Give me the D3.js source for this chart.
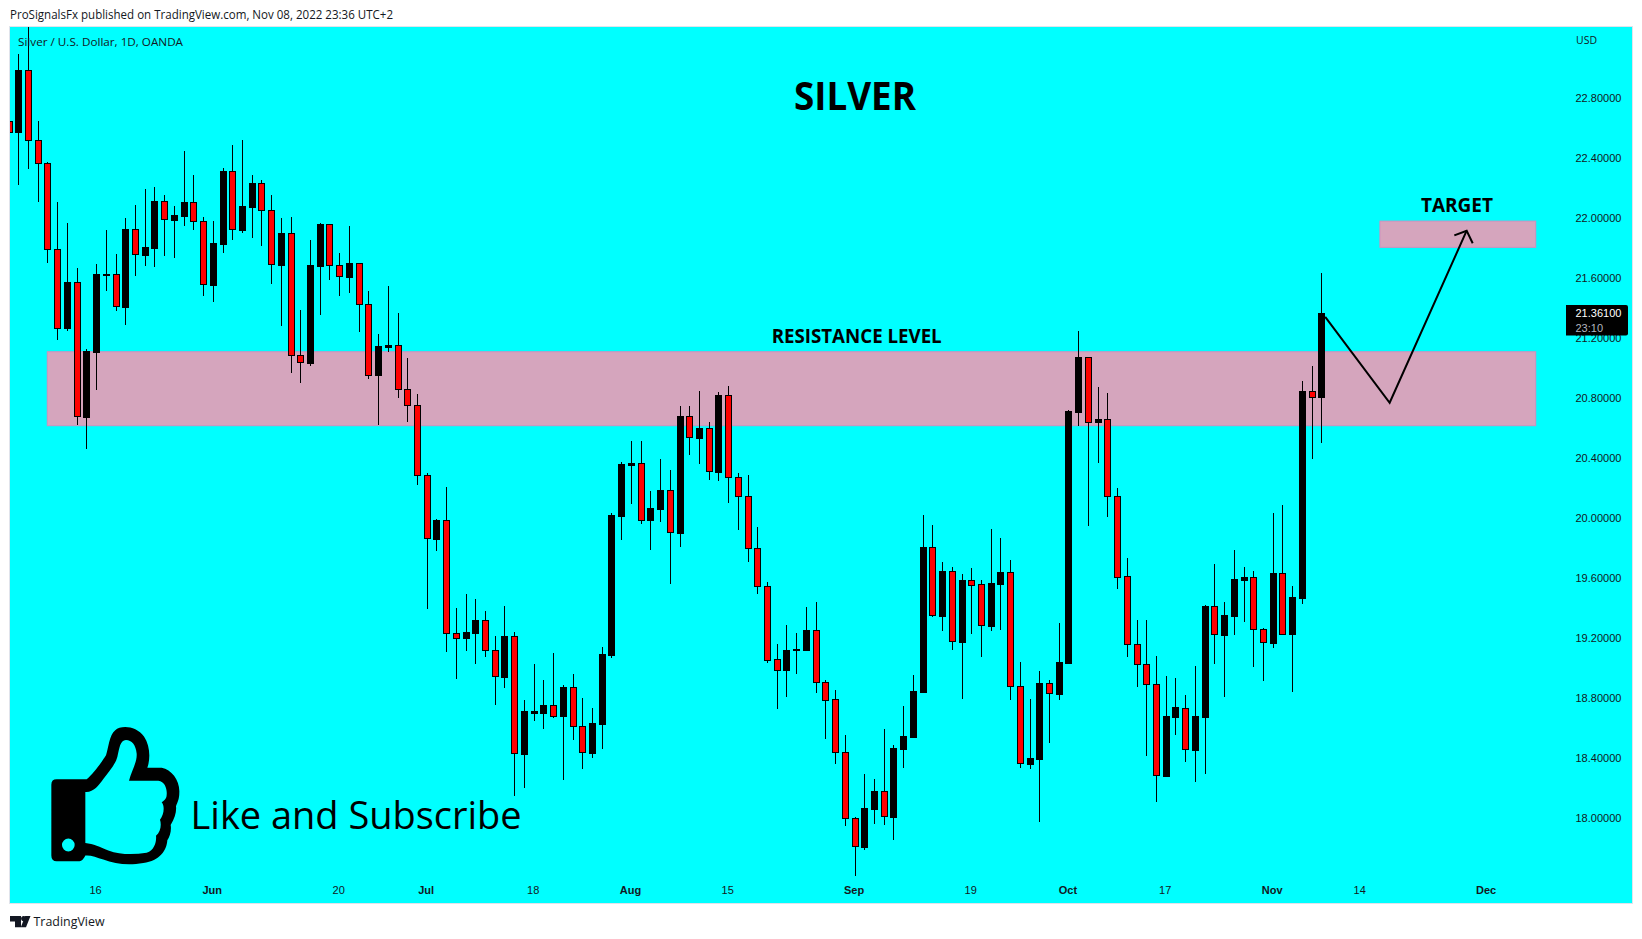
<!DOCTYPE html>
<html><head><meta charset="utf-8">
<script src="https://cdn.jsdelivr.net/npm/d3@7/dist/d3.min.js"></script>
<style>html,body{margin:0;padding:0;background:#fff;overflow:hidden}svg{display:block}
text{font-family:"Open Sans","Liberation Sans",sans-serif}</style></head>
<body><div id="chart"></div>
<script>
// Daily candles; the first entry is the cut-off candle at the left edge (session -1)
const opens=[22.645,22.571,22.980,22.513,22.360,21.787,21.265,21.567,20.671,21.105,21.618,21.620,21.404,21.920,21.751,21.798,22.109,21.985,22.011,22.102,21.973,21.551,21.825,22.307,21.918,22.071,22.227,22.047,21.685,21.893,21.080,21.031,21.678,21.953,21.680,21.605,21.693,21.420,20.947,21.138,21.147,20.853,20.747,
20.280,19.858,19.980,19.227,19.198,19.231,19.313,19.113,18.938,19.207,18.424,18.698,18.698,18.747,18.678,18.867,18.607,18.431,18.625,19.085,20.011,20.351,20.360,19.984,20.058,20.180,19.898,20.673,20.531,20.593,20.304,20.813,20.267,20.140,19.793,19.540,
19.053,18.985,19.113,19.118,19.247,18.900,18.787,18.433,17.993,17.805,18.058,18.173,18.005,18.458,18.538,18.838,19.800,19.345,19.640,19.171,19.580,19.553,19.278,19.558,19.633,18.873,18.358,18.391,18.893,18.825,
19.032,20.703,21.068,20.637,20.653,20.139,19.606,19.153,19.020,18.887,18.277,18.670,18.732,18.451,18.670,19.406,19.218,19.344,19.584,19.599,19.253,19.165,19.627,19.222,19.465,20.839,20.799];
const closes=[22.571,22.982,22.513,22.360,21.787,21.265,21.567,20.673,21.109,21.622,21.622,21.407,21.922,21.753,21.802,22.109,21.987,22.016,22.102,21.973,21.553,21.827,22.309,21.920,22.076,22.229,22.047,21.687,21.896,21.080,21.033,21.682,21.956,21.680,21.607,21.696,21.420,20.947,21.142,21.147,20.853,20.747,20.280,
19.860,19.982,19.227,19.198,19.236,19.316,19.113,18.940,19.209,18.427,18.709,18.707,18.749,18.678,18.869,18.607,18.433,18.629,19.089,20.016,20.356,20.360,19.984,20.062,20.182,19.900,20.676,20.533,20.596,20.307,20.816,20.267,20.140,19.793,19.540,19.051,
18.985,19.113,19.122,19.249,18.900,18.785,18.433,17.993,17.807,18.060,18.173,18.007,18.460,18.542,18.842,19.800,19.347,19.640,19.173,19.580,19.551,19.280,19.560,19.633,18.873,18.360,18.393,18.893,18.827,19.036,
20.708,21.068,20.637,20.653,20.139,19.603,19.153,19.020,18.887,18.280,18.675,18.734,18.453,18.675,19.408,19.220,19.349,19.589,19.601,19.253,19.168,19.630,19.225,19.468,20.842,20.799,21.361];
const highs=[22.700,23.089,23.400,22.642,22.367,22.102,21.962,21.662,21.120,21.689,21.916,21.756,21.996,22.082,22.189,22.202,22.149,22.076,22.442,22.282,22.002,21.976,22.327,22.482,22.516,22.282,22.247,22.149,21.996,22.002,21.382,21.849,21.962,21.956,21.762,21.942,21.693,21.509,21.222,21.542,21.362,21.062,20.822,
20.293,19.989,20.202,19.396,19.489,19.456,19.376,19.209,19.409,19.236,18.782,19.022,18.916,19.096,18.882,18.956,18.796,18.729,19.136,20.027,20.367,20.509,20.509,20.176,20.389,20.316,20.742,20.742,20.842,20.636,20.833,20.876,20.296,20.282,19.936,19.569,
19.156,19.282,19.229,19.402,19.436,18.916,18.849,18.549,18.002,18.289,18.256,18.589,18.482,18.742,18.949,20.016,19.949,19.702,19.669,19.622,19.662,19.582,19.922,19.862,19.716,19.036,18.789,18.976,18.916,19.296,
20.715,21.242,21.068,20.868,20.830,20.196,19.730,19.315,19.315,19.075,18.942,18.930,18.815,19.008,19.415,19.689,19.434,19.782,19.668,19.642,19.263,20.030,20.082,19.541,20.908,21.008,21.630];
const lows=[22.500,22.218,22.325,22.105,21.693,21.185,21.245,20.618,20.458,20.851,21.511,21.378,21.285,21.611,21.678,21.671,21.745,21.731,21.945,21.918,21.478,21.438,21.762,21.851,21.898,21.865,21.811,21.558,21.278,20.965,20.898,21.011,21.351,21.585,21.478,21.498,21.238,20.925,20.618,21.100,20.798,20.638,20.218,
19.391,19.778,19.105,18.925,19.111,19.025,19.071,18.751,18.865,18.145,18.198,18.645,18.591,18.660,18.251,18.518,18.325,18.398,18.458,19.065,19.851,20.091,19.958,19.784,19.971,19.558,19.804,20.418,20.358,20.251,20.244,20.098,19.918,19.704,19.491,19.031,
18.725,18.805,18.958,19.111,18.831,18.525,18.358,17.945,17.611,17.785,17.958,17.951,17.851,18.331,18.536,18.836,19.338,19.245,19.118,18.791,19.224,19.071,19.245,19.251,18.784,18.331,18.325,17.971,18.498,18.784,
19.032,20.611,19.944,20.365,20.003,19.525,19.070,18.870,18.410,18.099,18.277,18.551,18.370,18.237,18.292,19.025,18.799,19.218,19.299,19.003,18.911,19.132,19.220,18.837,19.425,20.392,20.499];

const priceTicks=[18,18.4,18.8,19.2,19.6,20,20.4,20.8,21.2,21.6,22,22.4,22.8];
const timeTickSessions=[8,20,33,42,53,63,73,86,98,108,118,129,138,151];
const timeTickLabels=["16","Jun","20","Jul","18","Aug","15","Sep","19","Oct","17","Nov","14","Dec"];
const monthLabels=["Jun","Jul","Aug","Sep","Oct","Nov","Dec"];

const resistanceSessions=[2.98,156.05], resistancePrices=[21.104,20.611];
const targetSessions=[140.03,156.05], targetPrices=[21.975,21.80];
const pathSessions=[134.4,141.03,148.95], pathPrices=[21.337,20.764,21.911];
const headSessions=[147.68,148.95,149.57], headPrices=[21.88,21.911,21.827];
const lastPrice=21.361;

const W=1642,H=939,panel={l:10,t:27,r:1632,b:903};
const svg=d3.select("#chart").append("svg").attr("width",W).attr("height",H);
const x=d3.scaleLinear().domain([0,134]).range([18.3,1321.3]);
const y=d3.scaleLinear().domain([17.429,23.269]).range([panel.b,panel.t]);

svg.append("rect").attr("x",panel.l-.5).attr("y",panel.t-.5).attr("width",panel.r-panel.l+1).attr("height",panel.b-panel.t+1)
  .attr("fill","#00ffff").attr("stroke","#e0e3eb");
svg.append("defs").append("clipPath").attr("id","clip").append("rect")
  .attr("x",panel.l).attr("y",panel.t).attr("width",panel.r-panel.l).attr("height",panel.b-panel.t);

const zone=(xs,ys)=>svg.append("rect").attr("x",x(xs[0])).attr("y",y(ys[0]))
  .attr("width",x(xs[1])-x(xs[0])).attr("height",y(ys[1])-y(ys[0]))
  .attr("fill","#d5a5bd").attr("stroke","#d28fbd").attr("stroke-width",1);
zone(resistanceSessions,resistancePrices);
zone(targetSessions,targetPrices);

const rows=opens.map((o,k)=>({i:k-1,o,c:closes[k],h:highs[k],l:lows[k]}));
const g=svg.append("g").attr("clip-path","url(#clip)").attr("shape-rendering","crispEdges");
const cx=d=>Math.round(x(d.i));
g.selectAll("rect.w").data(rows).join("rect").attr("class","w")
  .attr("x",d=>cx(d)).attr("width",1)
  .attr("y",d=>Math.round(y(d.h))).attr("height",d=>Math.round(y(d.l))-Math.round(y(d.h)))
  .attr("fill","#000");
g.selectAll("rect.b").data(rows).join("rect").attr("class","b")
  .attr("x",d=>cx(d)-3).attr("width",7)
  .attr("y",d=>Math.round(y(Math.max(d.o,d.c))))
  .attr("height",d=>Math.max(2,Math.round(y(Math.min(d.o,d.c)))-Math.round(y(Math.max(d.o,d.c)))+1))
  .attr("fill","#000");
g.selectAll("rect.f").data(rows.filter(d=>d.c<d.o)).join("rect").attr("class","f")
  .attr("x",d=>cx(d)-2).attr("width",5)
  .attr("y",d=>Math.round(y(d.o))+1)
  .attr("height",d=>Math.max(0,Math.round(y(d.c))-Math.round(y(d.o))-1))
  .attr("fill","#ff0000");

// projected path arrow
const line=d3.line().x(d=>x(d[0])).y(d=>y(d[1]));
svg.append("path").attr("d",line(d3.zip(pathSessions,pathPrices))).attr("fill","none").attr("stroke","#000").attr("stroke-width",2);
svg.append("path").attr("d",line(d3.zip(headSessions,headPrices))).attr("fill","none").attr("stroke","#000").attr("stroke-width",2);

// axes
const ya=d3.axisRight(y).tickValues(priceTicks).tickSize(0).tickPadding(0).tickFormat(d3.format(".5f"));
const yg=svg.append("g").attr("transform","translate(1575.5,0.7)").call(ya);
yg.select(".domain").remove();
yg.selectAll("text").attr("fill","#131722").style("font-size","11px").style("font-family","'Liberation Sans',sans-serif");

const xa=d3.axisBottom(x).tickValues(timeTickSessions).tickSize(0).tickPadding(0).tickFormat((d,i)=>timeTickLabels[i]);
const xg=svg.append("g").attr("transform","translate(-1,886)").call(xa);
xg.select(".domain").remove();
xg.selectAll("text").attr("fill","#131722").style("font-size","11px").style("font-family","'Liberation Sans',sans-serif")
  .style("font-weight",(d,i)=>monthLabels.includes(timeTickLabels[i])?"700":"400");

const label=(t,px,py,size,weight,fill,w,font)=>{const e=svg.append("text").attr("x",px).attr("y",py).text(t)
  .attr("fill",fill).style("font-size",size+"px").style("font-weight",weight);
  if(font)e.style("font-family",font);
  if(w)e.attr("textLength",w).attr("lengthAdjust","spacingAndGlyphs");return e;};
const ls="'Liberation Sans',sans-serif";
label("ProSignalsFx published on TradingView.com, Nov 08, 2022 23:36 UTC+2",10,19,12,400,"#131722",383);
label("Silver / U.S. Dollar, 1D, OANDA",18,46,11,400,"#131722",165);
label("USD",1576,44,11,400,"#131722",21);
label("SILVER",794,110,40,700,"#000",122);
label("RESISTANCE LEVEL",771.7,343.3,20,700,"#000",170);
label("TARGET",1421,212,20,700,"#000",72);
label("Like and Subscribe",190.5,829,39,400,"#000",331);

// last price tag
svg.append("path").attr("d","M1566,305H1626a2,2 0 0 1 2,2V333.5a2,2 0 0 1 -2,2H1566Z").attr("fill","#000");
label(d3.format(".5f")(lastPrice),1575.5,317,11,400,"#fff",null,ls);
label("23:10",1575.5,332,11,400,"#b2b5be",null,ls);

// thumbs-up
svg.append("path").attr("transform","translate(40,719.5) scale(0.3333,0.34)").attr("fill-rule","evenodd").attr("fill","#000")
 .attr("d","M50,176 L140,176 C160,160 185,125 198,105 C205,85 208,45 225,32 C245,15 290,20 312,50 C330,75 332,115 322,142 L365,142 C395,147 420,180 418,215 C418,235 412,245 408,255 C410,270 405,290 392,310 C395,325 390,345 382,355 C380,385 360,415 310,422 C265,430 225,425 190,412 C170,405 150,398 136,400 C130,412 125,417 115,417 L50,417 Q34,417 34,400 L34,192 Q34,176 50,176 Z "+
 "M136,213 C160,215 175,195 190,175 C205,155 225,135 232,110 C238,85 240,60 258,60 C275,60 288,75 290,100 C292,125 275,150 267,180 L355,180 C375,182 382,205 380,222 C380,232 372,240 365,243 C375,255 372,280 360,295 C365,310 362,330 348,342 C350,355 345,385 320,392 C280,398 240,398 205,385 C180,375 160,365 136,363 Z "+
 "M66,369 a19,19 0 1 0 38,0 a19,19 0 1 0 -38,0 Z");

// TradingView mark
svg.append("path").attr("fill","#131722").attr("d","M10,916 H21 V927.3 H15 V921.5 H10 Z M30.5,916 L26,927.3 H20.8 L25.2,916 Z");
svg.append("circle").attr("cx",23.7).attr("cy",918.6).attr("r",2.6).attr("fill","#131722");
label("TradingView",33.5,926,13,400,"#131722",71);
</script></body></html>
